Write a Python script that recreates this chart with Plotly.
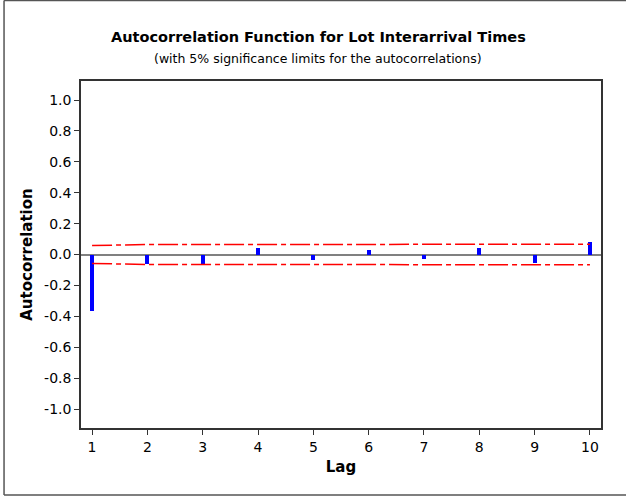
import plotly.graph_objects as go

# Autocorrelation estimates by lag
lags = [1, 2, 3, 4, 5, 6, 7, 8, 9, 10]
acf = [-0.364, -0.060, -0.065, 0.040, -0.035, 0.030, -0.031, 0.042, -0.053, 0.081]
# 5% significance limits (upper bound; lower is its negative)
limit = [0.058, 0.065, 0.065, 0.065, 0.066, 0.066, 0.066, 0.066, 0.066, 0.066]

y_ticks = [1.0, 0.8, 0.6, 0.4, 0.2, 0.0, -0.2, -0.4, -0.6, -0.8, -1.0]
y_tick_text = ["1.0", "0.8", "0.6", "0.4", "0.2", "0.0", "-0.2", "-0.4", "-0.6", "-0.8", "-1.0"]

FONT = "DejaVu Sans"
dash = "20px,4px,5px,4px"

fig = go.Figure()

fig.add_trace(go.Scatter(x=lags, y=limit, mode="lines",
                         line=dict(color="#ff0000", width=1.5, dash=dash),
                         hoverinfo="skip", showlegend=False))
fig.add_trace(go.Scatter(x=lags, y=[-v for v in limit], mode="lines",
                         line=dict(color="#ff0000", width=1.5, dash=dash),
                         hoverinfo="skip", showlegend=False))
fig.add_trace(go.Bar(x=lags, y=acf, width=0.07, marker=dict(color="#0000ff", line=dict(width=0)),
                     showlegend=False))

fig.add_annotation(text="<b>Autocorrelation Function for Lot Interarrival Times</b>",
                   xref="paper", yref="paper", x=0.456, y=1.0, yshift=44,
                   xanchor="center", yanchor="middle", showarrow=False,
                   font=dict(family=FONT, size=14.5, color="black"))
fig.add_annotation(text="(with 5% significance limits for the autocorrelations)",
                   xref="paper", yref="paper", x=0.456, y=1.0, yshift=23,
                   xanchor="center", yanchor="middle", showarrow=False,
                   font=dict(family=FONT, size=12.5, color="black"))

# outer border (top, left, bottom)
border = dict(color="#555555", width=1.5)
fig.add_shape(type="line", xref="paper", yref="paper", x0=-0.148, x1=1.06, y0=1.232, y1=1.232, line=border)
fig.add_shape(type="line", xref="paper", yref="paper", x0=-0.148, x1=-0.148, y0=1.232, y1=-0.193, line=border)
fig.add_shape(type="line", xref="paper", yref="paper", x0=-0.148, x1=1.06, y0=-0.193, y1=-0.193, line=border)

fig.update_layout(
    width=626, height=498,
    margin=dict(l=81, r=25, t=81, b=70),
    paper_bgcolor="white", plot_bgcolor="white",
    font=dict(family=FONT, size=14, color="black"),
    bargap=0,
)
fig.update_xaxes(range=[0.8, 10.2], tickvals=lags, ticks="outside", ticklen=5,
                 tickcolor="#333333", showline=True, mirror=True, linecolor="#333333",
                 linewidth=1.5, showgrid=False, zeroline=False,
                 title=dict(text="<b>Lag</b>", font=dict(family=FONT, size=15), standoff=8))
fig.update_yaxes(range=[-1.123, 1.123], tickvals=y_ticks, ticktext=y_tick_text,
                 ticks="outside", ticklen=5, tickcolor="#333333", showline=True, mirror=True,
                 linecolor="#333333", linewidth=1.5, showgrid=False,
                 zeroline=True, zerolinecolor="#808080", zerolinewidth=1.5,
                 title=dict(text="<b>Autocorrelation</b>", font=dict(family=FONT, size=15), standoff=8))

fig.write_html("out.html")
